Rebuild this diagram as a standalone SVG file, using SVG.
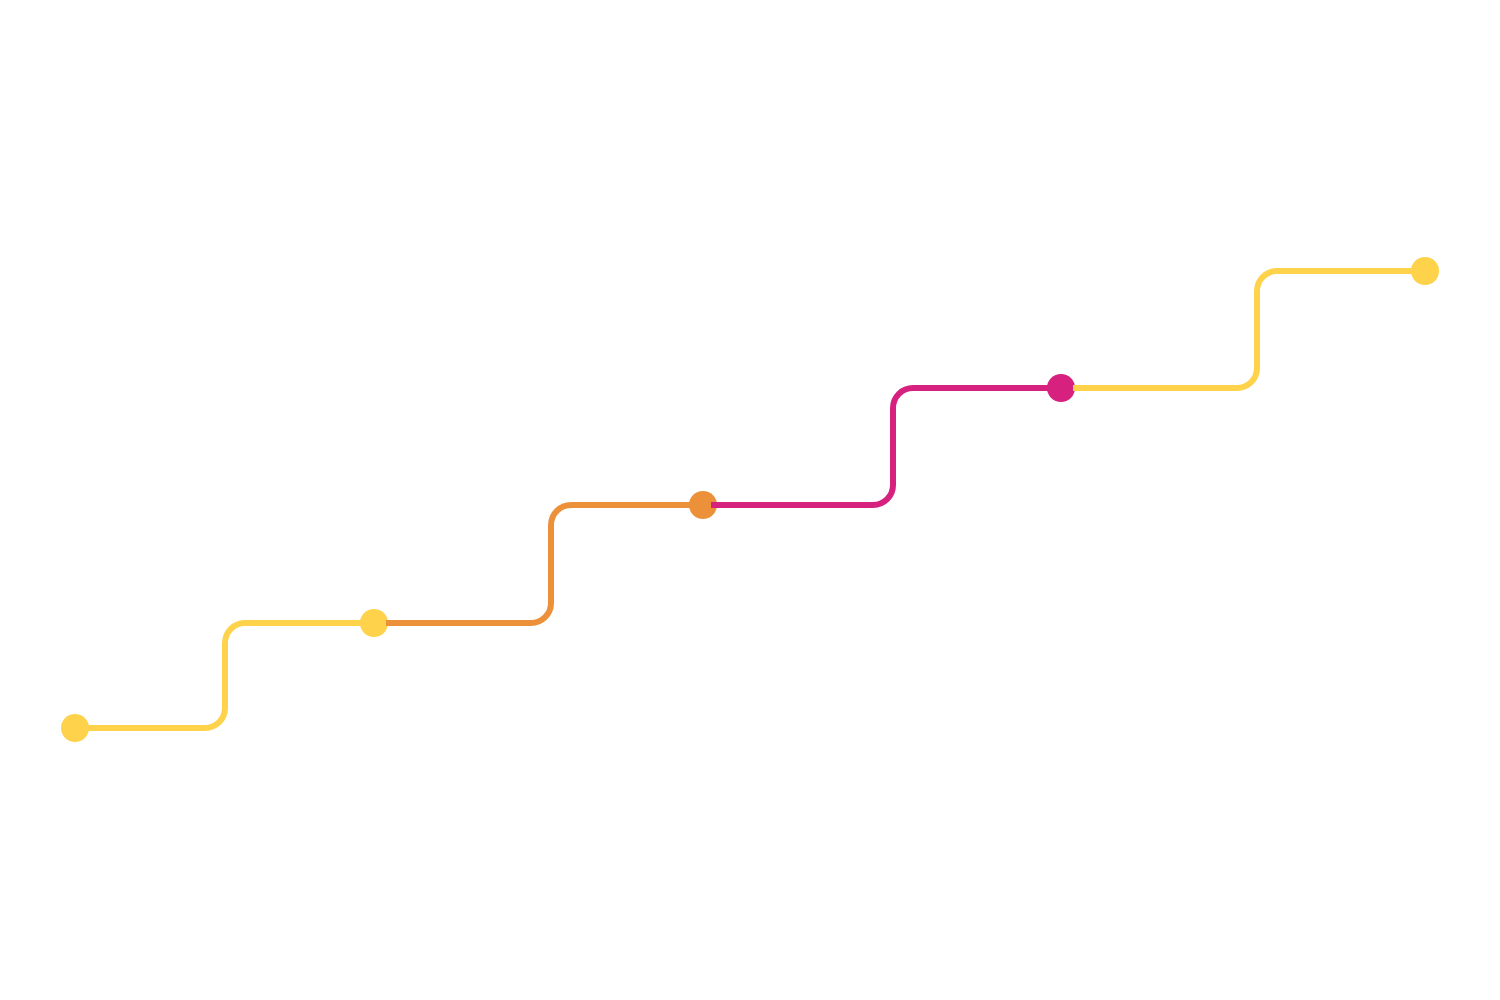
<svg xmlns="http://www.w3.org/2000/svg" width="1500" height="1000" viewBox="0 0 1500 1000">
<style>
.seg{fill:none;stroke-width:6;stroke-linecap:butt;stroke-linejoin:round}
.y{stroke:#FED24A}.o{stroke:#EC913A}.m{stroke:#D6217E}
.dy{fill:#FED24A}.do{fill:#EC913A}.dm{fill:#D6217E}
</style>
<rect width="1500" height="1000" fill="#ffffff"/>
<g id="nodes">
<g id="n1"><circle class="dy" cx="75" cy="728" r="14"/></g>
<g id="n2"><circle class="dy" cx="374" cy="623" r="14"/></g>
<g id="n3"><circle class="do" cx="703" cy="505" r="14"/></g>
<g id="n4"><circle class="dm" cx="1061" cy="388" r="14"/></g>
<g id="n5"><circle class="dy" cx="1425" cy="271" r="14"/></g>
</g>
<g id="connectors">
<path class="seg y" d="M87 728 H205 A20 20 0 0 0 225 708 V643 A20 20 0 0 1 245 623 H374"/>
<path class="seg o" d="M386 623 H531 A20 20 0 0 0 551 603 V525 A20 20 0 0 1 571 505 H703"/>
<path class="seg m" d="M711 505 H873 A20 20 0 0 0 893 485 V408 A20 20 0 0 1 913 388 H1061"/>
<path class="seg y" d="M1073 388 H1237 A20 20 0 0 0 1257 368 V291 A20 20 0 0 1 1277 271 H1425"/>
</g>
</svg>
